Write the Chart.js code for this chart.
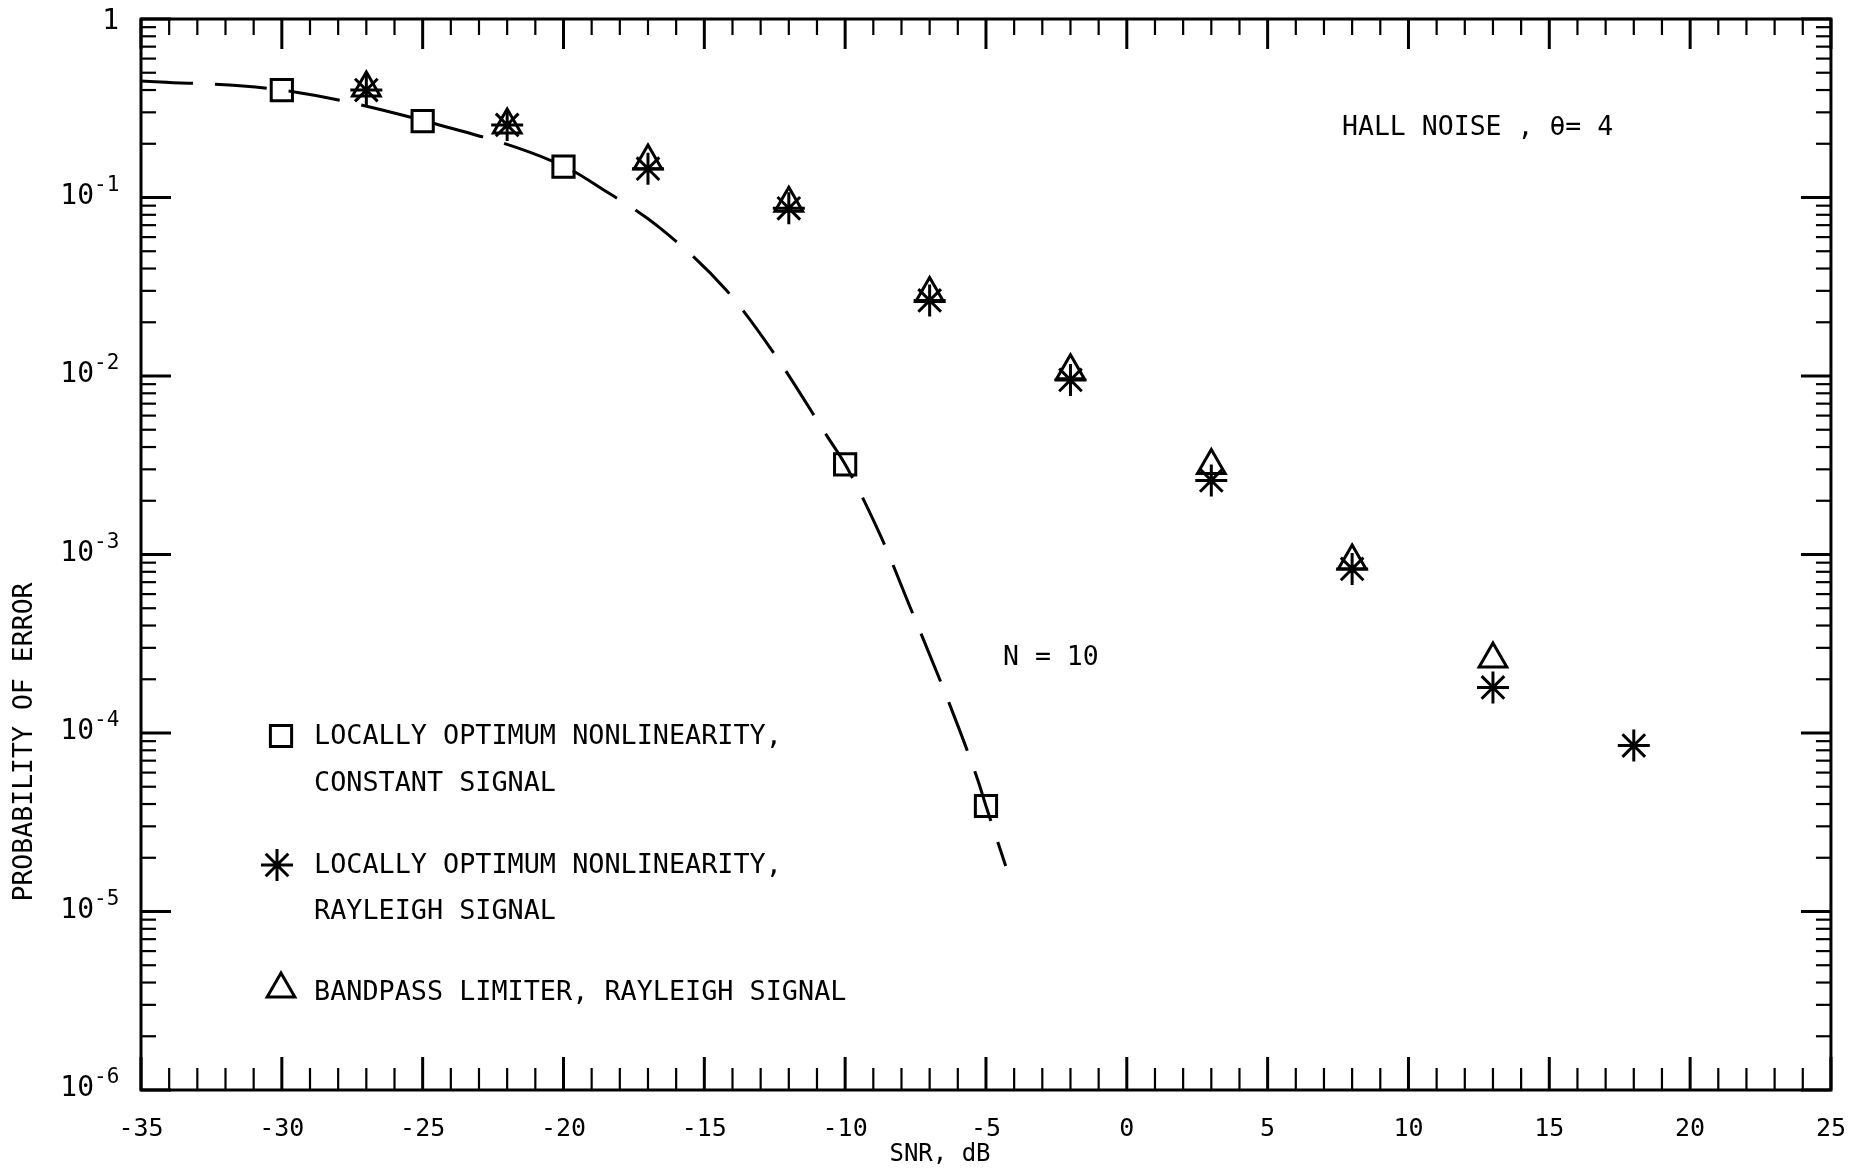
<!DOCTYPE html>
<html><head><meta charset="utf-8">
<script src="https://cdn.jsdelivr.net/npm/chart.js@4.4.0/dist/chart.umd.min.js"></script>
<style>html,body{margin:0;padding:0;background:#fff;}</style>
</head><body>
<canvas id="c" width="1870" height="1174"></canvas>
<script>
const FONT = '"DejaVu Sans Mono", "Liberation Mono", monospace';

// ---- data ----
const xMin = -35, xMax = 25, xStep = 5;
const yMin = 1e-6, yMax = 1;
const yDecades = [0, -1, -2, -3, -4, -5, -6];

// dashed curve (locally optimum nonlinearity, constant signal, N = 10)
const curveSnr = [-35, -30, -25, -20, -18.6, -16.6, -14.2, -12.5, -10.6, -10, -8.7, -7.7, -6.4, -5.3, -5, -4.3];
const curvePe  = [0.45, 0.40, 0.27, 0.15, 0.111, 0.068, 0.030, 0.0132, 0.0045, 0.0032, 0.00123, 0.00051, 0.00016, 0.000055, 0.000039, 0.000018];

// squares: LO nonlinearity, constant signal
const squareSnr = [-30, -25, -20, -10, -5];
const squarePe  = [0.40, 0.268, 0.149, 0.0032, 0.000039];

// asterisks: LO nonlinearity, Rayleigh signal
const asteriskSnr = [-27, -22, -17, -12, -7, -2, 3, 8, 13, 18];
const asteriskPe  = [0.40, 0.255, 0.145, 0.087, 0.0265, 0.0095, 0.0026, 0.00083, 0.00018, 0.000085];

// triangles: bandpass limiter, Rayleigh signal
const triangleSnr = [-27, -22, -17, -12, -7, -2, 3, 8, 13];
const trianglePe  = [0.41, 0.255, 0.16, 0.093, 0.029, 0.0107, 0.00315, 0.00092, 0.00026];

const legendItems = [
  {style:'rect', lines:['LOCALLY OPTIMUM NONLINEARITY,', 'CONSTANT SIGNAL']},
  {style:'star', lines:['LOCALLY OPTIMUM NONLINEARITY,', 'RAYLEIGH SIGNAL']},
  {style:'triangle', lines:['BANDPASS LIMITER, RAYLEIGH SIGNAL']}
];
const noteTitle = 'HALL NOISE , θ= 4';
const noteN = 'N = 10';
const xTitle = 'SNR, dB';
const yTitle = 'PROBABILITY OF ERROR';

const pts = (xs, ys) => xs.map((x, i) => ({x, y: ys[i]}));

function drawMark(ctx, style, x, y, r) {
  ctx.beginPath();
  if (style === 'rect') {
    const s = r * Math.SQRT1_2;
    ctx.rect(x - s, y - s, 2 * s, 2 * s);
  } else if (style === 'triangle') {
    for (let i = 0; i < 3; i++) {
      const a = i * 2 * Math.PI / 3;
      const px = x + Math.sin(a) * r, py = y - Math.cos(a) * r;
      if (i === 0) ctx.moveTo(px, py); else ctx.lineTo(px, py);
    }
    ctx.closePath();
  } else {
    for (let i = 0; i < 4; i++) {
      const a = i * Math.PI / 4;
      ctx.moveTo(x - Math.cos(a) * r, y - Math.sin(a) * r);
      ctx.lineTo(x + Math.cos(a) * r, y + Math.sin(a) * r);
    }
  }
  ctx.stroke();
}

const decor = {
  id: 'decor',
  beforeDraw(chart) {
    const ctx = chart.ctx;
    ctx.save(); ctx.fillStyle = '#fff'; ctx.fillRect(0, 0, chart.width, chart.height); ctx.restore();
  },
  afterDraw(chart) {
    const {ctx, chartArea: a, scales: {x, y}} = chart;
    ctx.save();
    ctx.strokeStyle = '#000'; ctx.fillStyle = '#000'; ctx.lineCap = 'butt';
    const seg = (x1, y1, x2, y2) => { ctx.beginPath(); ctx.moveTo(x1, y1); ctx.lineTo(x2, y2); ctx.stroke(); };
    // x ticks (bottom and top, inward)
    for (let v = x.min; v <= x.max; v++) {
      const px = x.getPixelForValue(v);
      const major = v % 5 === 0;
      ctx.lineWidth = major ? 3 : 2.2;
      seg(px, a.bottom, px, a.bottom - (major ? 33 : 22));
      seg(px, a.top, px, a.top + (major ? 30 : 16));
    }
    // y ticks (left and right, inward)
    for (let k = 0; k >= -6; k--) {
      for (let m = 1; m <= 9; m++) {
        const v = m * Math.pow(10, k);
        if (v > y.max * 1.0001 || v < y.min * 0.9999) continue;
        const py = y.getPixelForValue(v);
        const major = m === 1;
        ctx.lineWidth = major ? 3 : 2.2;
        seg(a.left, py, a.left + (major ? 30 : 15), py);
        seg(a.right, py, a.right - (major ? 30 : 15), py);
      }
    }
    // frame
    ctx.lineWidth = 3;
    ctx.strokeRect(a.left, a.top, a.right - a.left, a.bottom - a.top);

    // y tick labels: 1, 10^-1 ... 10^-6
    ctx.textBaseline = 'middle';
    yDecades.forEach(e => {
      const py = y.getPixelForValue(Math.pow(10, e));
      if (e === 0) {
        ctx.textAlign = 'right';
        ctx.font = '28px ' + FONT;
        ctx.fillText('1', a.left - 22, py + 3);
      } else {
        ctx.textAlign = 'left';
        ctx.font = '21px ' + FONT;
        ctx.fillText('-' + (-e), a.left - 47, py - 12);
        ctx.textAlign = 'right';
        ctx.font = '28px ' + FONT;
        ctx.fillText('10', a.left - 47, py - 1);
      }
    });

    // texts
    ctx.textAlign = 'left';
    ctx.font = '26.5px ' + FONT;
    ctx.fillText(noteTitle, 1342, 128);
    ctx.fillText(noteN, 1003, 658);

    // legend
    const legendY = [[737, 784], [866, 912], [993]];
    const markX = [281, 277, 281];
    const markR = [15, 16, 16];
    ctx.font = '26.8px ' + FONT;
    legendItems.forEach((it, i) => {
      ctx.lineWidth = 3;
      drawMark(ctx, it.style, markX[i], legendY[i][0] + (it.style === 'triangle' ? -4 : -1), markR[i]);
      it.lines.forEach((t, j) => ctx.fillText(t, 314, legendY[i][j]));
    });

    // axis titles
    ctx.textAlign = 'center';
    ctx.font = '24px ' + FONT;
    ctx.fillText(xTitle, 940, 1155);
    ctx.save();
    ctx.translate(25, 742);
    ctx.rotate(-Math.PI / 2);
    ctx.font = '26.5px ' + FONT;
    ctx.fillText(yTitle, 0, 0);
    ctx.restore();
    ctx.restore();
  }
};

new Chart(document.getElementById('c'), {
  type: 'scatter',
  data: {
    datasets: [
      {
        label: 'curve', data: pts(curveSnr, curvePe), showLine: true,
        borderColor: '#000', borderWidth: 3, borderDash: [52, 22],
        cubicInterpolationMode: 'monotone', pointRadius: 0, fill: false, order: 4
      },
      {
        label: 'LO constant', data: pts(squareSnr, squarePe), pointStyle: 'rect',
        pointRadius: 15, borderColor: '#000', backgroundColor: 'rgba(0,0,0,0)', borderWidth: 3, order: 3
      },
      {
        label: 'LO Rayleigh', data: pts(asteriskSnr, asteriskPe), pointStyle: 'star',
        pointRadius: 16, borderColor: '#000', backgroundColor: 'rgba(0,0,0,0)', borderWidth: 3, order: 2
      },
      {
        label: 'BPL Rayleigh', data: pts(triangleSnr, trianglePe), pointStyle: 'triangle',
        pointRadius: 16, borderColor: '#000', backgroundColor: 'rgba(0,0,0,0)', borderWidth: 3, order: 1
      }
    ]
  },
  options: {
    responsive: false, animation: false, devicePixelRatio: 1,
    layout: {padding: {top: 19, right: 38, left: 0, bottom: 0}},
    plugins: {legend: {display: false}, tooltip: {enabled: false}},
    scales: {
      x: {
        type: 'linear', min: xMin, max: xMax,
        grid: {display: false, drawTicks: false}, border: {display: false},
        ticks: {stepSize: xStep, padding: 24, color: '#000', font: {family: FONT, size: 25},
                callback: v => String(v)},
        afterFit: s => { s.height = 84; }
      },
      y: {
        type: 'logarithmic', min: yMin, max: yMax,
        grid: {display: false, drawTicks: false}, border: {display: false},
        ticks: {display: false},
        afterFit: s => { s.width = 141; }
      }
    }
  },
  plugins: [decor]
});
</script>
</body></html>
